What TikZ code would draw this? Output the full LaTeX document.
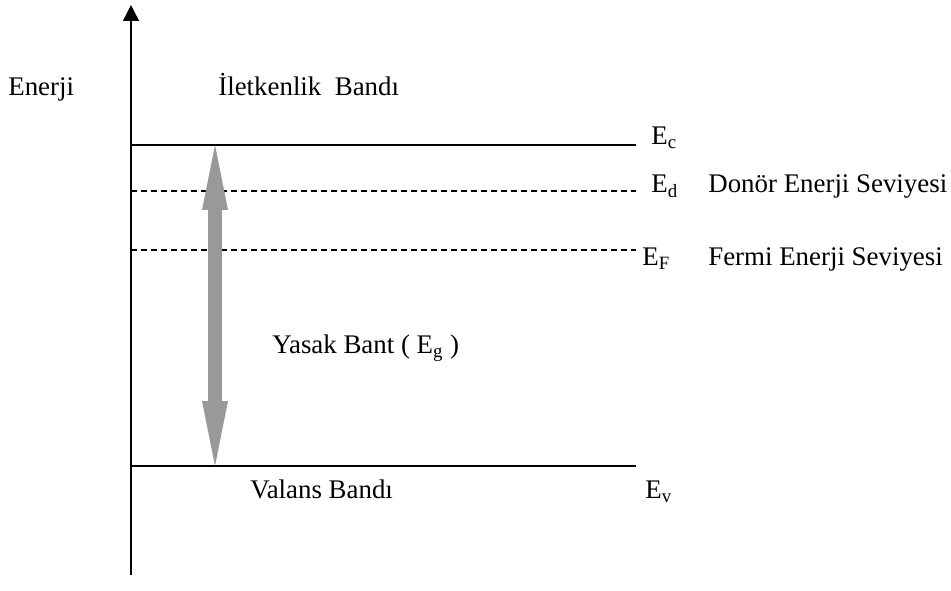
\documentclass[tikz,border=0pt]{standalone}
\usepackage{fontspec}
\setmainfont{Liberation Serif}
\usepackage{xcolor}
\usetikzlibrary{arrows.meta}
\definecolor{bandgray}{RGB}{153,153,153}
\tikzset{
  level/.style={line width=0.8pt},
  dlevel/.style={line width=0.7pt,dash pattern=on 0.12cm off 0.08cm},
  lab/.style={anchor=base west,inner sep=0pt,font=\fontsize{15.3}{18}\selectfont},
  gaptip/.tip={Triangle[line width=0pt,length=1.3cm,width=0.52cm]}
}

\begin{document}
\begin{tikzpicture}[x=0.02cm,y=-0.02cm]
\useasboundingbox (0,0) rectangle (951,591);
% energy axis
\coordinate (bot) at (131,575);
\coordinate (top) at (131,5);
\draw[level,-{Triangle[length=0.32cm,width=0.32cm]}] (bot)--(top);
% band edges and levels
\coordinate (c0) at (131,145); \coordinate (c1) at (636,145);
\coordinate (d0) at (131,191); \coordinate (d1) at (636,191);
\coordinate (f0) at (131,250); \coordinate (f1) at (636,250);
\coordinate (v0) at (131,466); \coordinate (v1) at (636,466);
\draw[level] (c0)--(c1);
\draw[dlevel] (d0)--(d1);
\draw[dlevel] (f0)--(f1);
\draw[level] (v0)--(v1);
% band gap arrow
\coordinate (gc) at (215,145);
\coordinate (gv) at (215,466);
\draw[bandgray,line width=0.28cm,gaptip-gaptip] (gc)--(gv);
% labels
\node[lab] (enerji) at (8,96) {Enerji};
\node[lab] (iletken) at (218,96) {İletkenlik\ \ Bandı};
\node[lab] (ec) at (651,145) {E\textsubscript{c}};
\node[lab] (ed) at (651,193) {E\textsubscript{d}};
\node[lab] (donor) at (708,193) {Donör Enerji Seviyesi};
\node[lab] (ef) at (642,266) {E\textsubscript{F}};
\node[lab] (fermi) at (708,266) {Fermi Enerji Seviyesi};
\node[lab] (yasak) at (272,354) {Yasak Bant ( E\textsubscript{g} )};
\node[lab] (valans) at (250,499) {Valans Bandı};
\node[lab] (ev) at (645,499) {E\textsubscript{v}};
\end{tikzpicture}
\end{document}
